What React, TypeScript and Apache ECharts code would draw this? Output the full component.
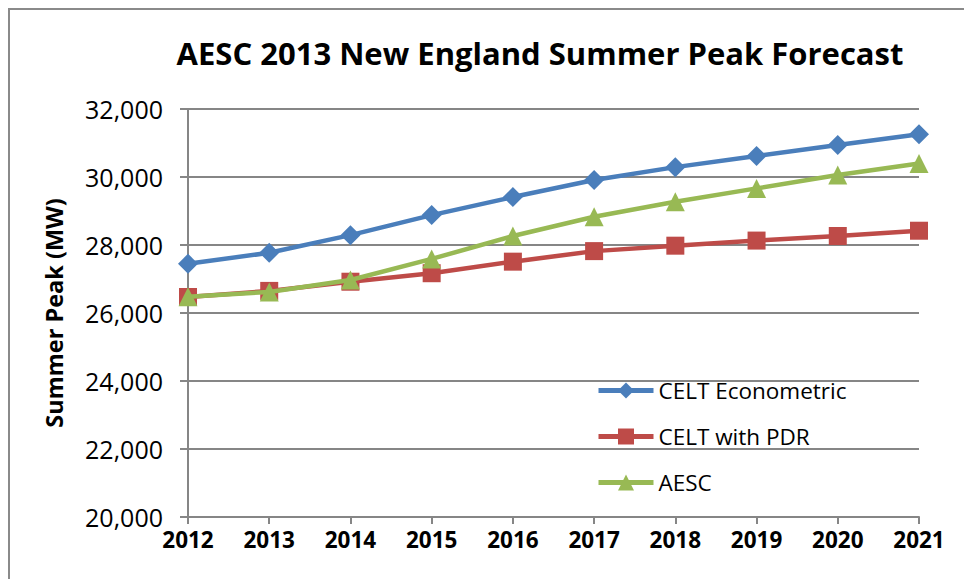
import React, { useEffect, useRef } from "react";
import * as echarts from "echarts";

const years = ["2012", "2013", "2014", "2015", "2016", "2017", "2018", "2019", "2020", "2021"];
const celtEconometric = [27450, 27770, 28290, 28880, 29410, 29910, 30290, 30620, 30940, 31260];
const celtWithPdr = [26470, 26650, 26920, 27170, 27510, 27820, 27980, 28130, 28265, 28420];
const aesc = [26480, 26620, 26970, 27590, 28265, 28830, 29270, 29665, 30060, 30400];
const seriesNames = ["CELT Econometric", "CELT with PDR", "AESC"];
const seriesColors = ["#4a7ebb", "#be4b48", "#98b954"];

const FONT = "Open Sans";

export default function App() {
  const ref = useRef<HTMLDivElement>(null);
  useEffect(() => {
    document.body.style.margin = "0";
    const chart = echarts.init(ref.current!, null, { renderer: "svg" });
    const data = [celtEconometric, celtWithPdr, aesc];
    const symbols = ["diamond", "rect", "triangle"];
    const sizes = [20, 18, 19];
    chart.setOption({
      animation: false,
      backgroundColor: "#ffffff",
      title: {
        text: "AESC 2013 New England Summer Peak Forecast",
        left: 535,
        top: 32,
        textAlign: "center",
        textStyle: { fontFamily: FONT, fontWeight: "bold", fontSize: 31, color: "#000" },
      },
      graphic: [
        {
          type: "rect",
          shape: { x: 9, y: 9, width: 970, height: 590 },
          style: { fill: "none", stroke: "#8a8a8a", lineWidth: 2 },
          silent: true,
        },
      ],
      legend: {
        orient: "vertical",
        left: 596,
        top: 379,
        padding: 0,
        itemWidth: 55,
        itemHeight: 20,
        itemGap: 23,
        lineStyle: { width: 5 },
        textStyle: { fontFamily: FONT, fontSize: 22.5, color: "#000" },
        data: seriesNames,
      },
      grid: { left: 188, right: 45, top: 109, bottom: 62, containLabel: false },
      xAxis: {
        type: "category",
        data: years,
        boundaryGap: false,
        axisLine: { lineStyle: { color: "#868686", width: 2 } },
        axisTick: { alignWithLabel: true, length: 7, lineStyle: { color: "#868686", width: 2 } },
        axisLabel: { fontFamily: FONT, fontWeight: "bold", fontSize: 22.5, color: "#000", margin: 11 },
        splitLine: { show: false },
      },
      yAxis: {
        type: "value",
        min: 20000,
        max: 32000,
        interval: 2000,
        name: "Summer Peak (MW)",
        nameLocation: "middle",
        nameGap: 122,
        nameRotate: 90,
        nameTextStyle: { fontFamily: FONT, fontWeight: "bold", fontSize: 23.5, color: "#000" },
        axisLine: { show: true, lineStyle: { color: "#868686", width: 2 } },
        axisTick: { show: true, length: 8, lineStyle: { color: "#868686", width: 2 } },
        axisLabel: {
          fontFamily: FONT,
          fontSize: 25,
          color: "#000",
          margin: 25,
          formatter: (v: number) => v.toLocaleString("en-US"),
        },
        splitLine: { show: true, lineStyle: { color: "#868686", width: 2 } },
      },
      series: seriesNames.map((name, i) => ({
        name,
        type: "line",
        data: data[i],
        symbol: symbols[i],
        symbolSize: sizes[i],
        showSymbol: true,
        lineStyle: { color: seriesColors[i], width: 4.5 },
        itemStyle: { color: seriesColors[i] },
        z: 3 + (i === 2 ? 1 : 0),
      })),
    });
    return () => chart.dispose();
  }, []);
  return <div ref={ref} style={{ width: 964, height: 579 }} />;
}
